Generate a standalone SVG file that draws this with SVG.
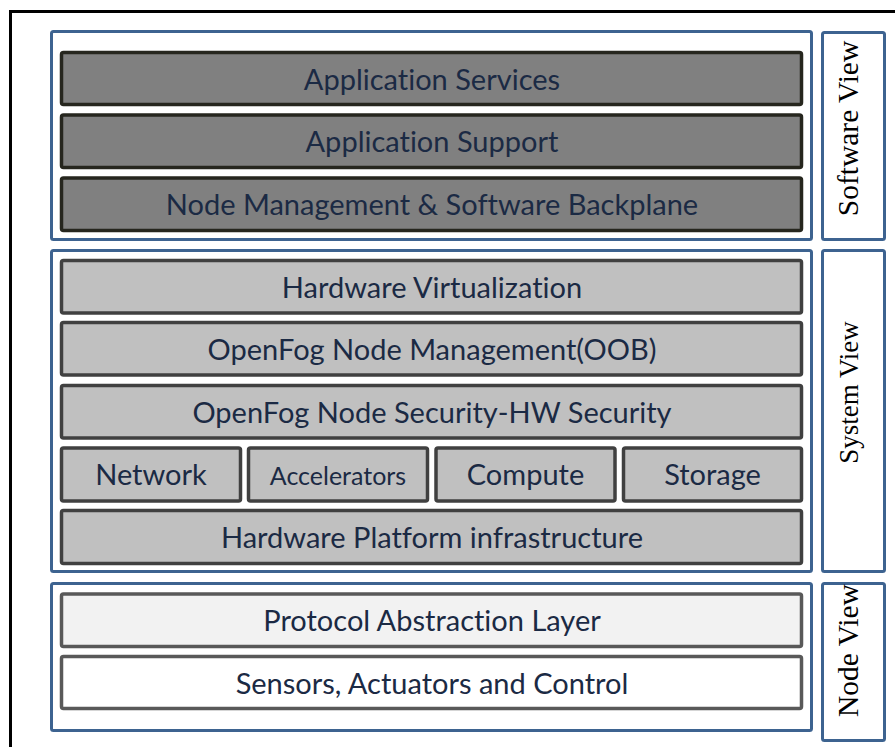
<svg xmlns="http://www.w3.org/2000/svg" width="895" height="747" viewBox="0 0 895 747">
  <style>
    .frame { fill: none; stroke: #000; stroke-width: 3; }
    .group { fill: #fff; stroke: #3d6390; stroke-width: 3; }
    .dark { fill: #808080; stroke: #26261e; stroke-width: 3.5; }
    .mid { fill: #c0c0c0; stroke: #404040; stroke-width: 3.5; }
    .light { fill: #f2f2f2; stroke: #595959; stroke-width: 3.5; }
    .white { fill: #fff; stroke: #595959; stroke-width: 3.5; }
    .lbl { font-family: Lato, "Open Sans", "Liberation Sans", sans-serif; font-size: 29px; fill: #1b2a44; text-anchor: middle; dominant-baseline: central; font-variant-ligatures: none; }
    .small { font-size: 25px; }
    .side { font-family: "Liberation Serif", "Times New Roman", serif; font-size: 29.5px; fill: #000; text-anchor: middle; }
  </style>

  <rect class="frame" x="10.5" y="11.5" width="900" height="800"/>

  <!-- Software view -->
  <g id="software-view">
    <rect class="group" x="51.5" y="31.5" width="760" height="208" rx="2"/>
    <g id="app-services">
      <rect class="dark" x="61.5" y="52.5" width="740" height="52" rx="2"/>
      <text class="lbl" x="432" y="78">Application Services</text>
    </g>
    <g id="app-support">
      <rect class="dark" x="61.5" y="115" width="740" height="52.5" rx="2"/>
      <text class="lbl" x="432" y="140.5">Application Support</text>
    </g>
    <g id="node-mgmt-backplane">
      <rect class="dark" x="61.5" y="178" width="740" height="52.5" rx="2"/>
      <text class="lbl" x="432" y="203.5">Node Management &amp; Software Backplane</text>
    </g>
  </g>
  <g id="software-view-label">
    <rect class="group" x="822.5" y="32.5" width="62" height="207" rx="2"/>
    <text class="side" transform="translate(858 128.5) rotate(-90)">Software View</text>
  </g>

  <!-- System view -->
  <g id="system-view">
    <rect class="group" x="51.5" y="250.5" width="760" height="321" rx="2"/>
    <g id="hw-virtualization">
      <rect class="mid" x="61.5" y="260.5" width="740" height="52.5" rx="2"/>
      <text class="lbl" x="432" y="286">Hardware Virtualization</text>
    </g>
    <g id="openfog-node-mgmt">
      <rect class="mid" x="61.5" y="322.5" width="740" height="52.5" rx="2"/>
      <text class="lbl" x="432" y="348">OpenFog Node Management(OOB)</text>
    </g>
    <g id="openfog-node-security">
      <rect class="mid" x="61.5" y="385.5" width="740" height="52.5" rx="2"/>
      <text class="lbl" x="432" y="411">OpenFog Node Security-HW Security</text>
    </g>
    <g id="network">
      <rect class="mid" x="61.5" y="448" width="179" height="53" rx="2"/>
      <text class="lbl" x="151" y="473.5">Network</text>
    </g>
    <g id="accelerators">
      <rect class="mid" x="248.5" y="448" width="179" height="53" rx="2"/>
      <text class="lbl small" x="338" y="475">Accelerators</text>
    </g>
    <g id="compute">
      <rect class="mid" x="436" y="448" width="179" height="53" rx="2"/>
      <text class="lbl" x="525.5" y="473.5">Compute</text>
    </g>
    <g id="storage">
      <rect class="mid" x="623.5" y="448" width="178" height="53" rx="2"/>
      <text class="lbl" x="712.5" y="473.5">Storage</text>
    </g>
    <g id="hw-platform">
      <rect class="mid" x="61.5" y="510.5" width="740" height="53" rx="2"/>
      <text class="lbl" x="432" y="536">Hardware Platform infrastructure</text>
    </g>
  </g>
  <g id="system-view-label">
    <rect class="group" x="822.5" y="250.5" width="62" height="321" rx="2"/>
    <text class="side" style="font-size:27px" transform="translate(858 392.5) rotate(-90)">System View</text>
  </g>

  <!-- Node view -->
  <g id="node-view">
    <rect class="group" x="51.5" y="583.5" width="760" height="147" rx="2"/>
    <g id="protocol-abstraction">
      <rect class="light" x="61.5" y="594" width="740" height="52.5" rx="2"/>
      <text class="lbl" x="432" y="619.5">Protocol Abstraction Layer</text>
    </g>
    <g id="sensors-actuators">
      <rect class="white" x="61.5" y="656.5" width="740" height="52" rx="2"/>
      <text class="lbl" x="432" y="682">Sensors, Actuators and Control</text>
    </g>
  </g>
  <g id="node-view-label">
    <rect class="group" x="822.5" y="583.5" width="62" height="157" rx="2"/>
    <text class="side" transform="translate(858 650.5) rotate(-90)">Node View</text>
  </g>
</svg>
